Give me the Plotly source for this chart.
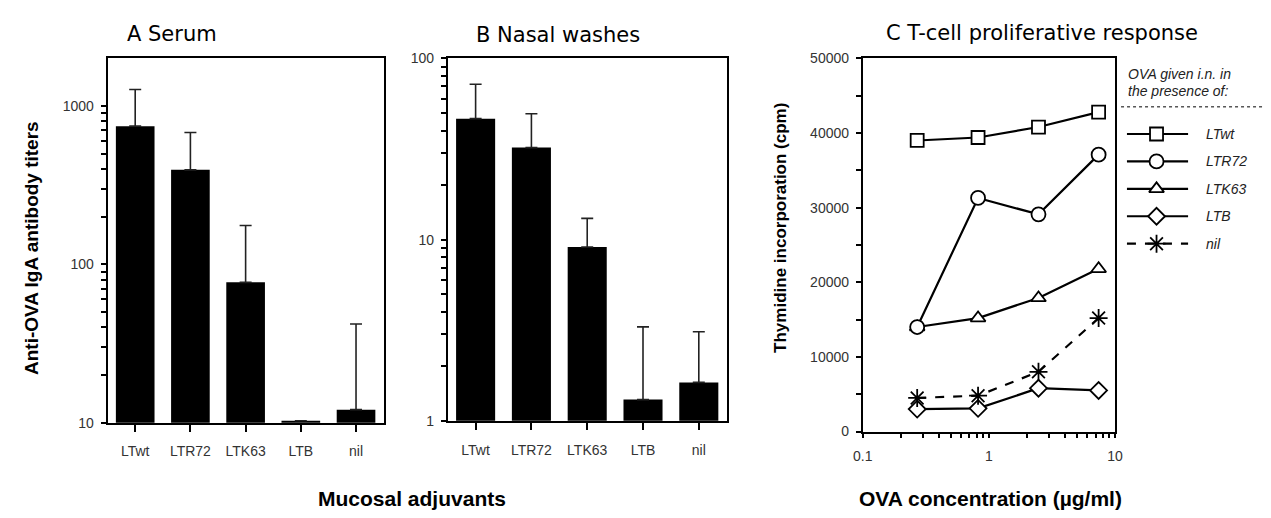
import plotly.graph_objects as go

# ---------------- data ----------------
adjuvants = ["LTwt", "LTR72", "LTK63", "LTB", "nil"]
serum_iga = [745, 395, 77, 10.3, 12.1]
serum_err_top = [1270, 680, 176, 10.3, 42]
nasal_iga = [46.5, 32.2, 9.1, 1.31, 1.63]
nasal_err_top = [72, 49.5, 13.1, 3.3, 3.1]

ova_conc = [0.27, 0.82, 2.47, 7.4]
ltwt_cpm = [39000, 39400, 40800, 42800]
ltr72_cpm = [14000, 31300, 29100, 37100]
ltk63_cpm = [14000, 15200, 17900, 21800]
ltb_cpm = [3000, 3100, 5800, 5500]
nil_cpm = [4500, 4800, 8000, 15200]

series_names = ["LTwt", "LTR72", "LTK63", "LTB", "nil"]

W, H = 1271, 518
FONT = "Liberation Sans, Arial, sans-serif"
TFONT = "DejaVu Sans, Verdana, sans-serif"


def px(x):
    return x / W


def py(y):
    return 1 - y / H


fig = go.Figure()

# ---------------- panel A / B bars ----------------
def bar_trace(vals, tops, xa, ya):
    return go.Bar(
        x=adjuvants, y=vals, width=0.7,
        marker=dict(color="black", line=dict(width=0)),
        error_y=dict(type="data", symmetric=False,
                     array=[t - v for t, v in zip(tops, vals)],
                     arrayminus=[0] * len(vals),
                     color="#222", thickness=1.6, width=6),
        xaxis=xa, yaxis=ya, showlegend=False, hoverinfo="skip")


fig.add_trace(bar_trace(serum_iga, serum_err_top, "x", "y"))
fig.add_trace(bar_trace(nasal_iga, nasal_err_top, "x2", "y2"))

# ---------------- panel C lines ----------------
line_w = 2.2
styles = {
    "LTwt": dict(symbol="square", size=13, dash="solid", fill="white"),
    "LTK63": dict(symbol="triangle-up", size=13, dash="solid", fill="white"),
    "LTR72": dict(symbol="circle", size=14, dash="solid", fill="white"),
    "LTB": dict(symbol="diamond", size=13, dash="solid", fill="white"),
    "nil": dict(symbol="asterisk-open", size=15, dash="dash", fill="black"),
}
series_vals = {"LTwt": ltwt_cpm, "LTR72": ltr72_cpm, "LTK63": ltk63_cpm,
               "LTB": ltb_cpm, "nil": nil_cpm}
for name in ["LTwt", "LTK63", "LTR72", "LTB", "nil"]:
    st = styles[name]
    fig.add_trace(go.Scatter(
        x=ova_conc, y=series_vals[name], mode="lines+markers",
        line=dict(color="black", width=line_w, dash=st["dash"]),
        marker=dict(symbol=st["symbol"], size=st["size"], color=st["fill"],
                    line=dict(color="black", width=1.8)),
        xaxis="x3", yaxis="y3", showlegend=False, hoverinfo="skip"))

# ---------------- custom legend (hidden pixel axis) ----------------
leg_x0, leg_xm, leg_x1 = 1133, 1163, 1195
leg_y0, leg_dy = 130, 28.3
for i, name in enumerate(series_names):
    st = styles[name]
    yy = leg_y0 + i * leg_dy
    fig.add_trace(go.Scatter(
        x=[leg_x0, leg_x1], y=[yy, yy], mode="lines",
        line=dict(color="black", width=line_w, dash=st["dash"]),
        xaxis="x4", yaxis="y4", showlegend=False, hoverinfo="skip"))
    fig.add_trace(go.Scatter(
        x=[leg_xm], y=[yy], mode="markers",
        marker=dict(symbol=st["symbol"], size=st["size"], color=st["fill"],
                    line=dict(color="black", width=1.8)),
        xaxis="x4", yaxis="y4", showlegend=False, hoverinfo="skip"))
    fig.add_annotation(x=px(1211), y=py(yy), xref="paper", yref="paper",
                       text="<i>%s</i>" % name, showarrow=False,
                       xanchor="left", yanchor="middle",
                       font=dict(family=FONT, size=14, color="#222"))

# ---------------- axes ----------------
tickfont = dict(family=FONT, size=14, color="#333")
axis_common = dict(showline=True, linecolor="black", linewidth=1.8, mirror=True,
                   ticks="outside", tickcolor="black", tickwidth=1.5,
                   showgrid=False, zeroline=False, tickfont=tickfont)


def log_ticks(first_decade, last_decade, extra=()):
    """Decade labels plus unlabeled 2..9 minor marks, up to 10**last_decade."""
    vals, texts = [], []
    for d in range(first_decade, last_decade):
        for m in range(1, 10):
            vals.append(m * 10 ** d)
            texts.append(("%g" % (10 ** d)) if m == 1 else "")
    vals.append(10 ** last_decade)
    texts.append("%g" % (10 ** last_decade))
    for e in extra:
        vals.append(e)
        texts.append("")
    return vals, texts


A_vals, A_text = log_ticks(1, 3, extra=(2000,))   # 10 ... 1000 (+2000 mark)
B_vals, B_text = log_ticks(0, 2)                  # 1 ... 100
Cx_vals, Cx_text = log_ticks(-1, 1)               # 0.1 ... 10
Cy_vals = list(range(0, 50001, 5000))
Cy_text = [str(v) if v % 10000 == 0 else "" for v in Cy_vals]

A_dom_x = [px(99), px(379)]
A_dom_y = [py(428), py(52)]
B_dom_x = [px(444), px(727)]
B_dom_y = [py(426), py(52)]
C_dom_x = [px(865), px(1121)]
C_dom_y = [py(437), py(52)]

fig.update_layout(
    width=W, height=H, autosize=False,
    margin=dict(l=0, r=0, t=0, b=0),
    paper_bgcolor="white", plot_bgcolor="rgba(0,0,0,0)",
    xaxis=dict(domain=A_dom_x, anchor="y", type="category", ticklen=7,
               ticklabelstandoff=8, **axis_common),
    yaxis=dict(domain=A_dom_y, anchor="x", type="log", range=[1, 3.30],
               tickvals=A_vals, ticktext=A_text, ticklen=5,
               ticklabelstandoff=4, **axis_common),
    xaxis2=dict(domain=B_dom_x, anchor="y2", type="category", ticklen=7,
                ticklabelstandoff=8, **axis_common),
    yaxis2=dict(domain=B_dom_y, anchor="x2", type="log", range=[0, 2],
                tickvals=B_vals, ticktext=B_text, ticklen=5,
                ticklabelstandoff=4, **axis_common),
    xaxis3=dict(domain=C_dom_x, anchor="y3", type="log", range=[-1, 1],
                tickvals=Cx_vals, ticktext=Cx_text, ticklen=5,
                ticklabelstandoff=6, **axis_common),
    yaxis3=dict(domain=C_dom_y, anchor="x3", range=[0, 50000],
                tickvals=Cy_vals, ticktext=Cy_text, ticklen=5,
                ticklabelstandoff=4, **axis_common),
    xaxis4=dict(domain=[0, 1], anchor="y4", range=[0, W], visible=False,
                fixedrange=True),
    yaxis4=dict(domain=[0, 1], anchor="x4", range=[H, 0], visible=False,
                fixedrange=True),
)

# ---------------- titles & axis titles ----------------
def ann(x, y, text, size, bold=False, italic=False, angle=0, xanchor="center",
        color="black", family=FONT):
    t = text
    if bold:
        t = "<b>%s</b>" % t
    if italic:
        t = "<i>%s</i>" % t
    fig.add_annotation(x=px(x), y=py(y), xref="paper", yref="paper", text=t,
                       showarrow=False, textangle=angle, xanchor=xanchor,
                       yanchor="middle", font=dict(family=family, size=size, color=color))


ann(164, 27, "A Serum", 21, family=TFONT)
ann(556, 28, "B Nasal washes", 21, family=TFONT)
ann(1047, 26, "C T-cell proliferative response", 21, family=TFONT)
ann(22, 248, "Anti-OVA IgA antibody titers", 19, bold=True, angle=-90)
ann(782, 227, "Thymidine incorporation (cpm)", 17, bold=True, angle=-90)
ann(408, 506, "Mucosal adjuvants", 21, bold=True)
ann(995, 506, "OVA concentration (µg/ml)", 21, bold=True)

# legend header
ann(1132, 68, "OVA given i.n. in", 14, italic=True, xanchor="left", color="#222")
ann(1132, 86, "the presence of:", 14, italic=True, xanchor="left", color="#222")
fig.add_shape(type="line", xref="paper", yref="paper",
              x0=px(1127), x1=px(1271), y0=py(102), y1=py(102),
              line=dict(color="black", width=1, dash="dot"))

fig.write_html("out.html",
               config={"displayModeBar": False},
               post_script="document.body.style.margin='0px';"
                           "document.body.style.overflow='hidden';")
